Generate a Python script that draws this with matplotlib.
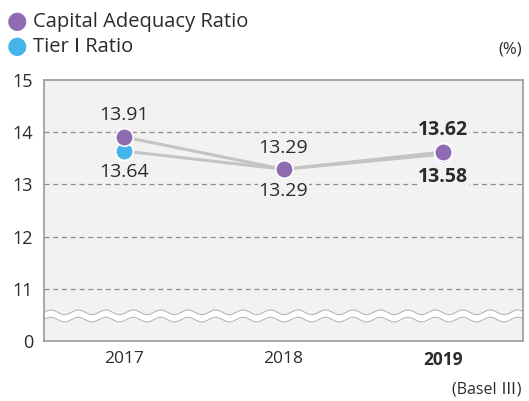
import numpy as np
import matplotlib.pyplot as plt

plt.rcParams['font.family'] = ['Open Sans', 'DejaVu Sans']

years = ['2017', '2018', '2019']
car = [13.91, 13.29, 13.62]
tier1 = [13.64, 13.29, 13.58]
ytick_vals = [10, 11, 12, 13, 14, 15]
ytick_labels = ['0', '11', '12', '13', '14', '15']

purple = '#8f6cb2'
blue = '#45b4e8'
line_c = '#c4c4c4'
text_c = '#2b2b2b'

fig = plt.figure(figsize=(5.29, 4.01), dpi=100)
ax = fig.add_axes([44 / 529, 60 / 401, 479 / 529, 261 / 401])
ax.set_facecolor('#f2f2f2')
x = np.arange(len(years))
ax.set_xlim(-0.5, 2.5)
ax.set_ylim(10, 15)

for v in [11, 12, 13, 14]:
    ax.axhline(v, color='#8c8c8c', lw=0.9, ls=(0, (4, 3)), zorder=1)

# wavy break band
xw = np.linspace(-0.5, 2.5, 600)
wave = 0.045 * np.sin(2 * np.pi * (xw + 0.5) / 0.172)
lo = 10.41 + wave
hi = 10.55 + wave
ax.fill_between(xw, lo, hi, color='white', zorder=2, lw=0)
ax.plot(xw, lo, color='#b0b0b0', lw=0.7, zorder=2)
ax.plot(xw, hi, color='#b0b0b0', lw=0.7, zorder=2)

ax.plot(x, tier1, color=line_c, lw=2.2, zorder=3)
ax.plot(x, car, color=line_c, lw=2.2, zorder=3)
ax.scatter(x, tier1, s=160, color=blue, edgecolor='white', linewidth=1.2, zorder=4)
ax.scatter(x, car, s=160, color=purple, edgecolor='white', linewidth=1.2, zorder=5)

for i in range(len(years)):
    bold = 'bold' if i == 2 else 'normal'
    up = max(car[i], tier1[i])
    dn = min(car[i], tier1[i])
    ax.annotate(f'{car[i]:.2f}', (x[i], up), xytext=(0, 9), textcoords='offset points',
                ha='center', va='bottom', fontsize=14, color=text_c, fontweight=bold,
                bbox=dict(facecolor='#f2f2f2', edgecolor='none', pad=0.3), zorder=6)
    ax.annotate(f'{tier1[i]:.2f}', (x[i], dn), xytext=(0, -9), textcoords='offset points',
                ha='center', va='top', fontsize=14, color=text_c, fontweight=bold,
                bbox=dict(facecolor='#f2f2f2', edgecolor='none', pad=0.3), zorder=6)

ax.set_xticks(x)
ax.set_xticklabels(years, fontsize=12.5, color=text_c)
ax.get_xticklabels()[2].set_fontweight('bold')
ax.set_yticks(ytick_vals)
ax.set_yticklabels(ytick_labels, fontsize=13, color=text_c)
ax.tick_params(length=0, pad=7)
ax.tick_params(axis='y', pad=8)
for s in ax.spines.values():
    s.set_color('#9a9a9a')
    s.set_linewidth(1.2)

# legend
fig.text(17 / 529, 1 - 22 / 401, '●', color=purple, fontsize=17, ha='center', va='center')
fig.text(33 / 529, 1 - 22 / 401, 'Capital Adequacy Ratio', color=text_c, fontsize=14.5, va='center')
fig.text(17 / 529, 1 - 47 / 401, '●', color=blue, fontsize=17, ha='center', va='center')
fig.text(33 / 529, 1 - 47 / 401, 'Tier Ⅰ Ratio', color=text_c, fontsize=14.5, va='center')
fig.text(522 / 529, 1 - 49 / 401, '(%)', color=text_c, fontsize=12, ha='right', va='center')
fig.text(522 / 529, 1 - 390 / 401, '(Basel Ⅲ)', color=text_c, fontsize=11.5, ha='right', va='center',
         family=['Open Sans', 'Noto Sans CJK JP', 'DejaVu Sans'])

fig.savefig('out.png', dpi=100)
